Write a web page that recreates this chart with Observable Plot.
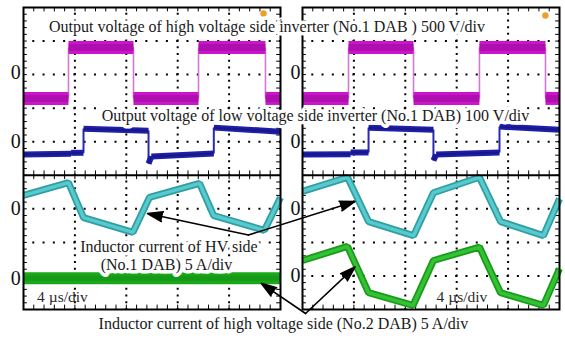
<!DOCTYPE html>
<html><head><meta charset="utf-8">
<script src="https://cdn.jsdelivr.net/npm/d3@7"></script>
<script src="https://cdn.jsdelivr.net/npm/@observablehq/plot@0.6"></script>
<style>body{margin:0;background:#fff}#chart{width:565px;height:338px;overflow:hidden}</style>
</head><body><div id="chart"></div>
<script>
// ---- scope settings ----
const panels = ["L", "R"];
const hvVoltsPerDiv = 500, lvVoltsPerDiv = 100, ampsPerDiv = 5;
// zero marker positions (divisions from bottom of the screen)
const zeroHv = {L: 7.05, R: 7.05};
const zeroLv = {L: 5.0, R: 5.0};
const zeroI1 = {L: 3.0, R: 3.0};
const zeroI2 = {L: 0.93, R: 1.0};

// ---- waveforms: [time µs, value] ----
const hvInvL = [[0,-380],[3.50,-380],[3.50,380],[8.56,380],[8.56,-380],[13.62,-380],[13.62,380],[18.83,380],[18.83,-380],[20,-380]];
const hvInvR = [[0,-380],[3.58,-380],[3.58,380],[8.64,380],[8.64,-380],[13.77,-380],[13.77,380],[18.91,380],[18.91,-380],[20,-380]];
const lvInvL = [[0,-38],[3.7,-36],[3.7,-33],[4.67,-33],[4.67,39],[9.73,33],[9.73,-65],[9.95,-44],[14.81,-35],[14.81,42],[20,30]];
const lvInvR = [[0,-38],[3.74,-37],[3.74,-32],[5.14,-32],[5.14,42],[10.19,36],[10.19,-56],[10.4,-38],[15.33,-32],[15.33,45],[20,36]];
const iHv1L = [[0,2.0],[3.50,3.9],[4.67,-1.3],[8.52,-3.5],[9.8,1.7],[13.7,3.8],[14.8,-1.0],[18.75,-3.2],[20,1.7]];
const iHv1R = [[0,2.6],[3.50,4.7],[5.14,-1.9],[8.64,-4.0],[10.19,2.4],[13.77,4.7],[15.41,-1.9],[18.75,-4.0],[20,1.5]];
const iHv2L = [[0,0],[20,0]];
const iHv2R = [[0,2.3],[3.50,4.4],[5.14,-2.5],[8.60,-4.4],[10.19,2.3],[13.77,4.3],[15.41,-2.5],[18.75,-4.4],[20,1.1]];

// ---- grid ----
const gridTimes = [4, 8, 12, 16];
const gridDivs = [1, 2, 3, 5, 6, 7, 8];
const minorTimes = d3.range(0.8, 19.9, 0.8);
const minorDivs = d3.range(0.2, 8.9, 0.2);

// ---- annotations ----
const labels = [
  {panel:"L", t:18.95, d:8.42, text:"Output voltage of high voltage side inverter (No.1 DAB ) 500 V/div", halo:true},
  {panel:"L", t:22.72, d:5.78, text:"Output voltage of low voltage side inverter (No.1 DAB) 100 V/div", halo:true},
  {panel:"L", t:11.32, d:1.88, text:"Inductor current of HV side", halo:true},
  {panel:"L", t:11.13, d:1.34, text:"(No.1 DAB) 5 A/div", halo:true},
  {panel:"L", t:20.23, d:-0.42, text:"Inductor current of high voltage side (No.2 DAB) 5 A/div", halo:true},
  {panel:"L", t:3.03, d:0.36, text:"4 \u00b5s/div", halo:false},
  {panel:"R", t:12.41, d:0.36, text:"4 \u00b5s/div", halo:false}
];
const arrows = [
  {panel:"L", t1:17.5, d1:2.22, t2:9.65, d2:2.86},
  {panel:"L", t1:17.5, d1:2.22, t2:25.8, d2:3.22},
  {panel:"L", t1:21.95, d1:-0.12, t2:18.5, d2:0.78},
  {panel:"L", t1:21.95, d1:-0.12, t2:25.8, d2:1.27}
];
const triggerMarks = [{panel:"L", t:18.68, d:8.82}, {panel:"R", t:18.9, d:8.76}];

// ---- helpers ----
function links(panel, pts, zero, perDiv) {
  const out = [];
  for (let i = 1; i < pts.length; i++) {
    const [t1, v1] = pts[i-1], [t2, v2] = pts[i];
    out.push({panel, t1, d1: zero + v1/perDiv, t2, d2: zero + v2/perDiv, edge: t1 === t2});
  }
  return out;
}
function recs(panel, pts, zero, perDiv) {
  return pts.map(([t, v]) => ({panel, t, d: zero + v/perDiv}));
}
const hvLinks = [...links("L", hvInvL, zeroHv.L, hvVoltsPerDiv), ...links("R", hvInvR, zeroHv.R, hvVoltsPerDiv)];
const lvLinks = [...links("L", lvInvL, zeroLv.L, lvVoltsPerDiv), ...links("R", lvInvR, zeroLv.R, lvVoltsPerDiv)];
const i1 = [...recs("L", iHv1L, zeroI1.L, ampsPerDiv), ...recs("R", iHv1R, zeroI1.R, ampsPerDiv)];
const i2L = recs("L", iHv2L, zeroI2.L, ampsPerDiv);
const i2R = recs("R", iHv2R, zeroI2.R, ampsPerDiv);
const zeroLabels = panels.flatMap(p => [zeroHv[p], zeroLv[p], zeroI1[p], zeroI2[p]].map(d => ({panel:p, d, t: p === "L" ? -0.6 : -0.55})));

const band = (data, opts) => Plot.link(data.filter(d => !d.edge), {x1:"t1", y1:"d1", x2:"t2", y2:"d2", fx:"panel", strokeLinecap:"butt", ...opts});
const edges = (data, opts) => Plot.link(data.filter(d => d.edge), {x1:"t1", y1:"d1", x2:"t2", y2:"d2", fx:"panel", ...opts});
const trace = (data, opts) => Plot.line(data, {x: "t", y: "d", fx: "panel", z: "panel", strokeLinecap: "butt", strokeLinejoin: "miter", ...opts});

const chart = Plot.plot({
  width: 565, height: 338,
  marginTop: 7, marginBottom: 29, marginLeft: 23, marginRight: 6,
  x: {domain: [0, 20], axis: null},
  y: {domain: [0, 9], axis: null},
  fx: {domain: panels, axis: null, paddingInner: 0.0789, paddingOuter: 0},
  style: {fontFamily: "'Liberation Serif', 'Times New Roman', serif", background: "white", overflow: "visible"},
  marks: [
    // dotted graticule
    Plot.ruleY(gridDivs, {stroke: "black", strokeWidth: 2, strokeDasharray: "2,8.28", strokeDashoffset: 1}),
    Plot.ruleX(gridTimes, {stroke: "black", strokeWidth: 2, strokeDasharray: "2,4.71", strokeDashoffset: 1}),
    // minor ticks on borders and separator
    Plot.ruleX(minorTimes, {y1: 0, y2: 0.13, stroke: "black", strokeWidth: 1}),
    Plot.ruleX(minorTimes, {y1: 8.87, y2: 9, stroke: "black", strokeWidth: 1}),
    Plot.ruleX(minorTimes, {y1: 3.87, y2: 4.13, stroke: "black", strokeWidth: 1}),
    Plot.ruleY(minorDivs, {x1: 0, x2: 0.3, stroke: "black", strokeWidth: 1}),
    Plot.ruleY(minorDivs, {x1: 19.7, x2: 20, stroke: "black", strokeWidth: 1}),
    // HV inverter voltage (magenta)
    edges(hvLinks, {stroke: "#d27ad2", strokeWidth: 1.6}),
    band(hvLinks, {stroke: "#cc14cc", strokeWidth: 13}),
    band(hvLinks, {stroke: "#9a0c9a", strokeWidth: 7, strokeOpacity: 0.6}),
    // LV inverter voltage (blue)
    edges(lvLinks, {stroke: "#2a2ab0", strokeWidth: 2}),
    band(lvLinks, {stroke: "#1f1fa8", strokeWidth: 6}),
    band(lvLinks, {stroke: "#12127a", strokeWidth: 2, strokeOpacity: 0.6}),
    // inductor current No.1 DAB (cyan)
    trace(i1, {stroke: "#2f9fa3", strokeWidth: 7}),
    trace(i1, {stroke: "#58c9cc", strokeWidth: 3.5}),
    // inductor current No.2 DAB (green)
    trace(i2L, {stroke: "#1aa81a", strokeWidth: 12}),
    trace(i2L, {stroke: "#139413", strokeWidth: 5, strokeOpacity: 0.7}),
    trace(i2R, {stroke: "#179c17", strokeWidth: 7}),
    trace(i2R, {stroke: "#36c036", strokeWidth: 3.5}),
    // frame & separator
    Plot.ruleY([4], {stroke: "black", strokeWidth: 2}),
    Plot.frame({stroke: "black", strokeWidth: 2}),
    Plot.dot(triggerMarks, {x: "t", y: "d", fx: "panel", r: 3.2, fill: "#e9a12b"}),
    // pointer arrows (under the text boxes)
    Plot.arrow(arrows, {x1: "t1", y1: "d1", x2: "t2", y2: "d2", fx: "panel", stroke: "black", fill: "black", strokeWidth: 1.6, headLength: 15, headAngle: 36, inset: 0}),
    // zero markers
    Plot.text(zeroLabels, {x: "t", y: "d", fx: "panel", text: () => "0", fontSize: 20, fill: "#111"}),
    // annotations
    Plot.text(labels.filter(d => d.halo), {x: "t", y: "d", fx: "panel", text: "text", fontSize: 16, fill: "#1a1a1a", stroke: "white", strokeWidth: 7}),
    Plot.text(labels.filter(d => !d.halo), {x: "t", y: "d", fx: "panel", text: "text", fontSize: 15.5, fill: "#2a2a2a"})
  ]
});
document.getElementById("chart").appendChild(chart);
</script>
</body></html>
